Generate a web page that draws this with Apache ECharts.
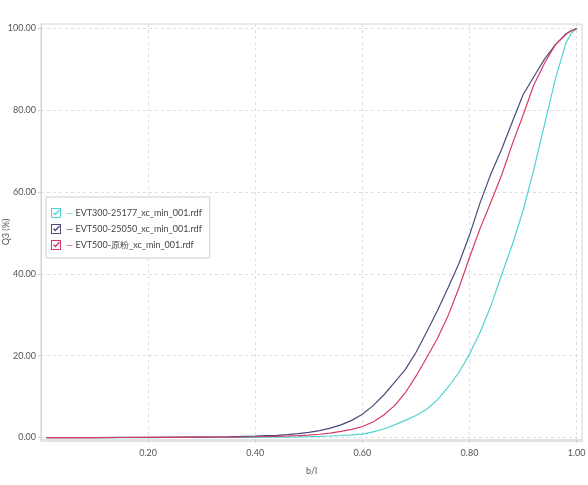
<!DOCTYPE html>
<html><head><meta charset="utf-8">
<script src="https://cdn.jsdelivr.net/npm/echarts@6/dist/echarts.min.js"></script>
<style>html,body{margin:0;padding:0;background:#fff}#c{width:588px;height:485px}</style>
</head><body><div id="c"></div>
<script>
const seriesNames = ['EVT300-25177_xc_min_001.rdf', 'EVT500-25050_xc_min_001.rdf', 'EVT500-原粉_xc_min_001.rdf'];
const xValues = [0.01,0.05,0.10,0.15,0.20,0.25,0.30,0.35,0.40,0.42,0.44,0.46,0.48,0.50,0.52,0.54,0.56,0.58,0.60,0.62,0.64,0.66,0.68,0.70,0.72,0.74,0.76,0.78,0.80,0.82,0.84,0.86,0.88,0.90,0.92,0.94,0.96,0.98,0.99,1.00];
const cyanValues = [0,0,0,0,0,0.01,0.02,0.03,0.05,0.07,0.10,0.12,0.15,0.20,0.28,0.38,0.50,0.65,0.85,1.4,2.1,3.1,4.2,5.4,6.9,9.2,12.3,15.9,20.4,25.8,32.2,39.8,47.2,55.5,65.5,76.5,87.5,96.5,98.8,100];
const navyValues = [0,0,0,0.02,0.05,0.08,0.12,0.2,0.35,0.45,0.55,0.7,0.95,1.25,1.7,2.3,3.1,4.2,5.7,7.8,10.4,13.5,16.6,20.8,25.8,31.0,36.6,42.5,49.5,57.5,64.5,70.5,77.2,83.8,88.2,92.5,96.0,98.6,99.5,100];
const crimsonValues = [0,0,0,0.01,0.03,0.05,0.08,0.12,0.2,0.25,0.3,0.38,0.45,0.6,0.8,1.1,1.5,2.0,2.7,3.8,5.5,7.8,10.9,15.0,19.5,24.2,29.8,36.5,44.0,51.2,57.6,64.2,71.8,78.8,86.2,91.5,96.0,98.7,99.4,100];
const xTicks = [0.2,0.4,0.6,0.8,1.0];
const yTicks = [0,20,40,60,80,100];
const colors = ['#4fd3d3', '#4b4b7a', '#d53a6b'];
const valuesList = [cyanValues, navyValues, crimsonValues];

const checkIcon = 'path://M0,0 L10,0 L10,10 L0,10 Z M1,1 L1,9 L9,9 L9,1 Z M2,5.2 L3,4.2 L4.4,5.6 L8,1.6 L9,2.6 L4.4,7.6 Z';
const font = 'Lato, "Noto Sans", sans-serif';
const rich = {};
colors.forEach((c, i) => { rich['d' + i] = { color: c, fontSize: 9, fontFamily: font }; });

const chart = echarts.init(document.getElementById('c'), null, { renderer: 'canvas' });
chart.setOption({
  animation: false,
  backgroundColor: '#fff',
  color: colors,
  grid: { left: 41, right: 6, top: 24, bottom: 45, containLabel: false, outerBoundsMode: 'none', show: true, borderColor: '#d4d4d4', borderWidth: 1, backgroundColor: 'transparent' },
  legend: {
    orient: 'vertical', left: 46, top: 197,
    padding: [11, 8, 8, 5], itemGap: 6, itemWidth: 10, itemHeight: 10,
    borderColor: '#cfcfcf', borderWidth: 1, backgroundColor: '#fff',
    data: seriesNames.map(n => ({ name: n, icon: checkIcon })),
    itemStyle: { borderWidth: 0 },
    textStyle: { fontSize: 9, color: '#444', fontFamily: font, rich: rich },
    formatter: function (name) { const i = seriesNames.indexOf(name); return '{d' + i + '|—} ' + name; }
  },
  xAxis: {
    type: 'value', min: 0, max: 1.01,
    name: 'b/l', nameLocation: 'middle', nameGap: 27, nameMoveOverlap: false,
    nameTextStyle: { fontSize: 9, color: '#555', fontFamily: font },
    axisLine: { show: true, onZero: false, lineStyle: { color: '#e3e3e3', width: 3 } },
    axisTick: { show: true, length: 3, customValues: xTicks, lineStyle: { color: '#cfcfcf' } },
    axisLabel: { customValues: xTicks, fontSize: 9, color: '#555', fontFamily: font, margin: 9, formatter: v => v.toFixed(2) },
    splitLine: { show: true, lineStyle: { color: '#dedede', type: [3, 3] } }
  },
  yAxis: {
    type: 'value', min: -0.6, max: 101.1,
    name: 'Q3 (%)', nameLocation: 'middle', nameGap: 30, nameMoveOverlap: false,
    nameTextStyle: { fontSize: 9, color: '#555', fontFamily: font },
    axisLine: { show: true, lineStyle: { color: '#d4d4d4', width: 1 } },
    axisTick: { show: true, length: 3, customValues: yTicks, lineStyle: { color: '#cfcfcf' } },
    axisLabel: { customValues: yTicks, fontSize: 9, color: '#555', fontFamily: font, margin: 5, formatter: v => v.toFixed(2) },
    splitLine: { show: true, lineStyle: { color: '#dedede', type: [3, 3] } }
  },
  series: seriesNames.map((n, i) => ({
    name: n, type: 'line', symbol: 'none', smooth: false,
    lineStyle: { width: 1.2, color: colors[i] },
    itemStyle: { color: colors[i] },
    data: xValues.map((x, k) => [x, valuesList[i][k]])
  }))
});
</script></body></html>
